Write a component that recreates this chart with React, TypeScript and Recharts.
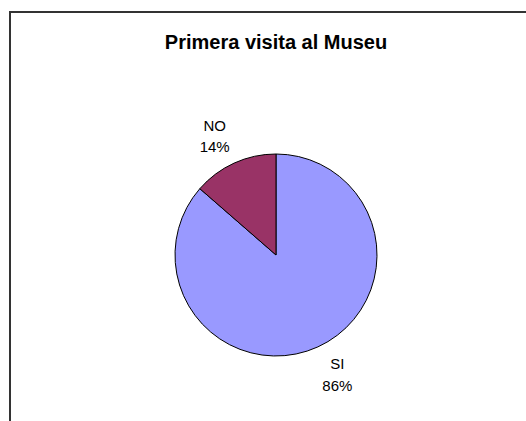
import React from 'react';
import { PieChart, Pie, Cell } from 'recharts';

const categories = ['SI', 'NO'];
const shares = [86.4, 13.6];
const sliceColors = ['#9999FF', '#993366'];

const data = categories.map((name, i) => ({ name, value: shares[i] }));

const RADIAN = Math.PI / 180;
const FONT = '"Liberation Sans", Arial, sans-serif';

// Excel-style labels sit on a slightly wider ellipse than the pie
const renderLabel = (props: any) => {
    const { cx, cy, midAngle, percent, name } = props;
    const x = cx + 148 * Math.cos(-midAngle * RADIAN);
    const y = cy + 131 * Math.sin(-midAngle * RADIAN);
    return (
        <text x={x} y={y} textAnchor="middle" fill="#000" fontSize={15} fontFamily={FONT}>
            <tspan x={x} dy={-5}>{name}</tspan>
            <tspan x={x} dy={21.5}>{Math.round(percent * 100)}%</tspan>
        </text>
    );
};

export default function App() {
    return (
        <div style={{ position: 'fixed', left: 0, top: 0, width: 526, height: 421, overflow: 'hidden', background: '#fff' }}>
            <div style={{ position: 'absolute', left: 9, top: 11, width: 600, height: 500, border: '2px solid #333' }} />
            <div style={{
                position: 'absolute', left: 0, top: 31, width: 552, textAlign: 'center',
                fontFamily: FONT, fontWeight: 'bold', fontSize: 20, color: '#000', lineHeight: 'normal'
            }}>
                Primera visita al Museu
            </div>
            <div style={{ position: 'absolute', left: 0, top: 0 }}>
                <PieChart width={526} height={421} margin={{ top: 0, right: 0, bottom: 0, left: 0 }}>
                    <Pie
                        data={data}
                        dataKey="value"
                        nameKey="name"
                        cx={276}
                        cy={255}
                        outerRadius={101}
                        startAngle={90}
                        endAngle={-270}
                        stroke="#000"
                        strokeWidth={1}
                        labelLine={false}
                        label={renderLabel}
                        isAnimationActive={false}
                    >
                        {data.map((d, i) => (
                            <Cell key={d.name} fill={sliceColors[i]} />
                        ))}
                    </Pie>
                </PieChart>
            </div>
        </div>
    );
}
